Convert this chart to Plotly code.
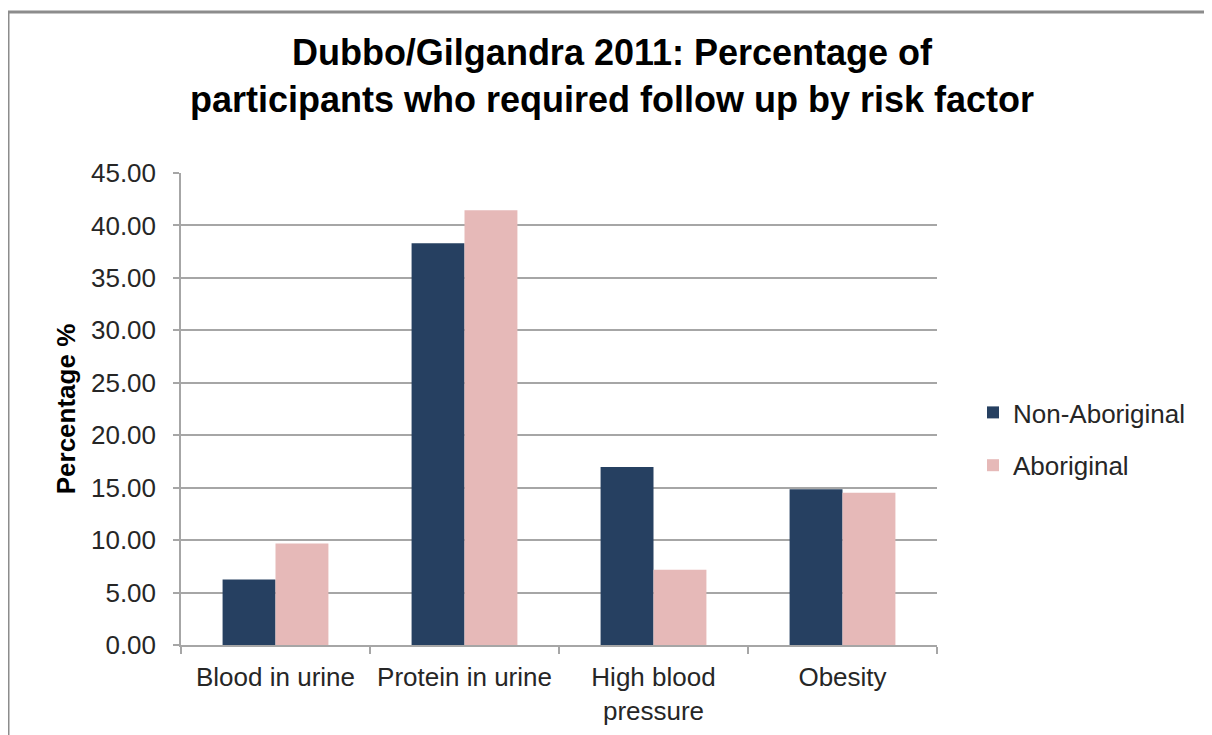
import plotly.graph_objects as go

categories = ["Blood in urine", "Protein in urine", "High blood<br>pressure", "Obesity"]
non_aboriginal = [6.25, 38.3, 16.97, 14.85]
aboriginal = [9.68, 41.45, 7.18, 14.52]
y_ticks = [0, 5, 10, 15, 20, 25, 30, 35, 40, 45]

W, H = 1212, 735
OFF = 8  # page offset of the figure inside the browser window
L, R, T, B = 181 - OFF, 937 - OFF, 173 - OFF, 645 - OFF

fig = go.Figure()
fig.add_trace(go.Bar(x=categories, y=non_aboriginal, name="Non-Aboriginal",
                     legendgroup="na",
                     marker=dict(color="#264061", line=dict(width=0))))
fig.add_trace(go.Bar(x=categories, y=aboriginal, name="Aboriginal",
                     legendgroup="ab",
                     marker=dict(color="#E6B9B8", line=dict(width=0))))

font = "Liberation Sans, Arial, sans-serif"

def px_x(p):
    return (p - OFF - L) / (R - L)

def px_y(p):
    return (B - (p - OFF)) / (B - T)

fig.update_layout(
    width=W, height=H,
    margin=dict(l=L, r=W - R, t=T, b=H - B, pad=0),
    paper_bgcolor="white", plot_bgcolor="white",
    font=dict(family=font, size=26, color="#262626"),
    title=dict(text="<b>Dubbo/Gilgandra 2011: Percentage of<br>participants who required follow up by risk factor</b>",
               x=(612 - OFF) / W, xanchor="center", y=0.922, yanchor="top",
               font=dict(family=font, size=36, color="black")),
    barmode="group", bargap=0.44, bargroupgap=0,
    showlegend=True,
    legend=dict(x=px_x(973), xanchor="left", y=px_y(439), yanchor="middle",
                font=dict(family=font, size=26, color="#262626"),
                bgcolor="rgba(0,0,0,0)", traceorder="grouped",
                itemwidth=30, tracegroupgap=16),
    xaxis=dict(showline=True, linecolor="#A6A6A6", linewidth=1.5,
               ticks="outside", tickson="boundaries", ticklen=7, tickcolor="#A6A6A6",
               tickwidth=1.5, showgrid=False, ticklabelstandoff=8,
               tickfont=dict(family=font, size=26, color="#262626")),
    yaxis=dict(range=[0, 45], tickvals=y_ticks, tickformat=".2f",
               showline=True, linecolor="#A6A6A6", linewidth=1.5,
               ticks="outside", ticklen=6, tickcolor="#A6A6A6", tickwidth=1.5,
               ticklabelstandoff=12,
               showgrid=True, gridcolor="#A6A6A6", gridwidth=1.5,
               zeroline=False,
               tickfont=dict(family=font, size=26, color="#262626"),
               title=dict(text="<b>Percentage %</b>", standoff=8,
                          font=dict(family=font, size=26, color="black"))),
    shapes=[
        dict(type="line", xref="paper", yref="paper",
             x0=px_x(8), x1=px_x(W + 20), y0=px_y(12), y1=px_y(12),
             line=dict(color="#8C8C8C", width=3)),
        dict(type="line", xref="paper", yref="paper",
             x0=px_x(8), x1=px_x(8), y0=px_y(12), y1=px_y(H + 20),
             line=dict(color="#8C8C8C", width=3)),
    ],
)

fig.write_html("out.html")
